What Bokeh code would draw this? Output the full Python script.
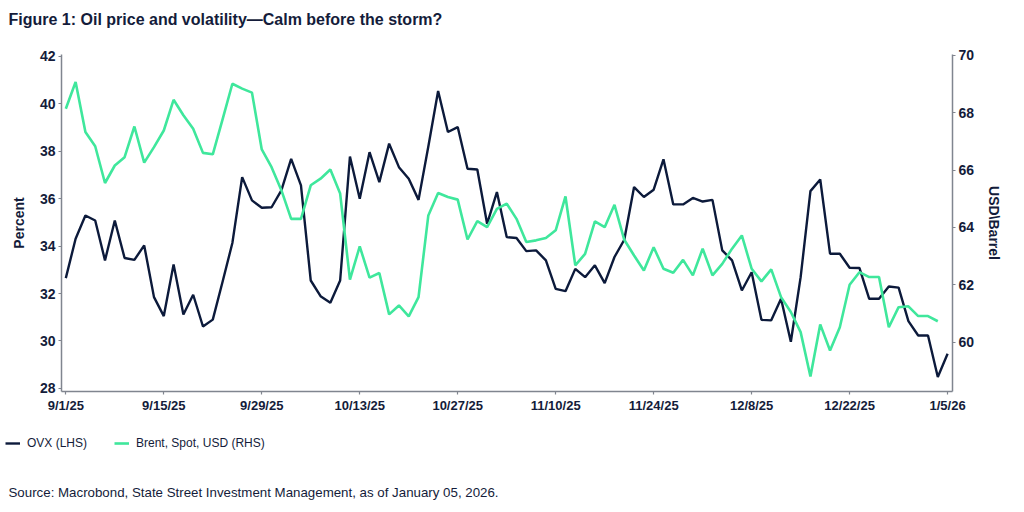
from bokeh.plotting import figure
from bokeh.models import Range1d, LinearAxis, FixedTicker, Legend, LegendItem
from bokeh.layouts import column
from bokeh.core.properties import value
from bokeh.embed import file_html
from bokeh.resources import INLINE

# ---- data (business-day index, 9/1/25 .. 1/5/26) ----
tick_labels = ["9/1/25", "9/15/25", "9/29/25", "10/13/25", "10/27/25",
               "11/10/25", "11/24/25", "12/8/25", "12/22/25", "1/5/26"]
tick_pos = [0, 10, 20, 30, 40, 50, 60, 70, 80, 90]

ovx = [32.65, 34.31, 35.29, 35.08, 33.40, 35.08, 33.50, 33.42, 34.03, 31.85,
       31.05, 33.23, 31.12, 31.95, 30.61, 30.90, 32.50, 34.13, 36.91, 35.93,
       35.62, 35.64, 36.35, 37.68, 36.56, 32.55, 31.89, 31.61, 32.55, 37.78,
       36.00, 37.96, 36.70, 38.32, 37.33, 36.84, 35.95, 38.20, 40.54, 38.81,
       39.02, 37.26, 37.23, 34.94, 36.28, 34.38, 34.34, 33.79, 33.82, 33.40,
       32.20, 32.10, 33.04, 32.69, 33.19, 32.44, 33.54, 34.27, 36.49, 36.07,
       36.38, 37.66, 35.76, 35.76, 36.03, 35.88, 35.95, 33.82, 33.40, 32.13,
       32.90, 30.89, 30.87, 31.78, 29.97, 32.69, 36.32, 36.81, 33.68, 33.68,
       33.09, 33.08, 31.78, 31.78, 32.30, 32.25, 30.84, 30.23, 30.23, 28.48,
       29.46]

brent = [68.14, 69.07, 67.33, 66.83, 65.55, 66.16, 66.45, 67.52, 66.26, 66.80,
         67.38, 68.45, 67.91, 67.44, 66.60, 66.55, 67.77, 69.01, 68.84, 68.70,
         66.72, 66.10, 65.30, 64.30, 64.30, 65.47, 65.70, 66.02, 65.18, 62.18,
         63.34, 62.25, 62.41, 60.97, 61.28, 60.90, 61.57, 64.42, 65.20, 65.06,
         64.97, 63.58, 64.22, 64.01, 64.65, 64.83, 64.30, 63.49, 63.55, 63.63,
         63.90, 65.08, 62.68, 63.08, 64.21, 64.01, 64.79, 63.57, 63.02, 62.50,
         63.31, 62.56, 62.42, 62.87, 62.33, 63.26, 62.33, 62.73, 63.26, 63.72,
         62.56, 62.12, 62.54, 61.57, 61.05, 60.35, 58.80, 60.62, 59.71, 60.52,
         62.00, 62.44, 62.27, 62.27, 60.52, 61.22, 61.25, 60.91, 60.91, 60.73]

ovx_x = list(range(len(ovx)))
brent_x = list(range(len(brent)))

left_ticks = [28, 30, 32, 34, 36, 38, 40, 42]
right_ticks = [60, 62, 64, 66, 68, 70]

TITLE = "Figure 1: Oil price and volatility\u2014Calm before the storm?"
SOURCE = "Source: Macrobond, State Street Investment Management, as of January 05, 2026."
SERIES = ["OVX (LHS)", "Brent, Spot, USD (RHS)"]

NAVY = "#0c1a3b"
GREEN = "#3fe79c"
AXIS = "#80858f"
TEXT = "#141c3a"
FONT = "Liberation Sans"
W = 1024
NAN = float("nan")


def blank_fig(h):
    f = figure(width=W, height=h, output_backend="svg", toolbar_location=None,
               x_range=Range1d(0, W), y_range=Range1d(h, 0),
               x_axis_type=None, y_axis_type=None,
               min_border_left=0, min_border_right=0, min_border_top=0,
               min_border_bottom=0, frame_align=False)
    f.outline_line_color = None
    f.background_fill_color = "white"
    f.border_fill_color = "white"
    return f


# ---- title strip ----
top = blank_fig(46)
top.text(x=[8], y=[19], text=[TITLE], text_font=value(FONT),
         text_font_style="bold", text_font_size="16px", text_color=TEXT,
         text_baseline="middle", text_align="left")

# ---- main chart ----
p = figure(width=W, height=374, output_backend="svg", toolbar_location=None,
           x_range=Range1d(-0.44, 90.5), y_range=Range1d(27.87, 42.08),
           min_border_left=61, min_border_right=72, min_border_top=8,
           min_border_bottom=29, frame_align=False)
p.extra_y_ranges = {"brent": Range1d(58.28, 70.03)}
p.xgrid.visible = False
p.ygrid.visible = False
p.outline_line_color = None
p.background_fill_color = "white"
p.border_fill_color = "white"


def style_axis(ax, size, label=None, standoff=10):
    ax.axis_line_color = AXIS
    ax.axis_line_width = 1.5
    ax.major_tick_line_color = AXIS
    ax.major_tick_line_width = 1.2
    ax.major_tick_in = 0
    ax.major_tick_out = 3
    ax.minor_tick_line_color = None
    ax.major_label_text_font = FONT
    ax.major_label_text_font_style = "bold"
    ax.major_label_text_font_size = size
    ax.major_label_text_color = TEXT
    ax.major_label_standoff = 3
    if label is not None:
        ax.axis_label = label
        ax.axis_label_text_font = FONT
        ax.axis_label_text_font_style = "bold"
        ax.axis_label_text_font_size = "14px"
        ax.axis_label_text_color = TEXT
        ax.axis_label_standoff = standoff


xa = p.xaxis[0]
style_axis(xa, "13px")
xa.ticker = FixedTicker(ticks=tick_pos)
xa.major_label_overrides = {t: s for t, s in zip(tick_pos, tick_labels)}

ya = p.yaxis[0]
style_axis(ya, "14px", "Percent", 10)
ya.ticker = FixedTicker(ticks=left_ticks)

ra = LinearAxis(y_range_name="brent")
style_axis(ra, "14px", "USD\\Barrel", 9)
ra.ticker = FixedTicker(ticks=right_ticks)
p.add_layout(ra, "right")

p.line(ovx_x, ovx, line_color=NAVY, line_width=2.4)
p.line(brent_x, brent, line_color=GREEN, line_width=2.6, y_range_name="brent")

# ---- legend + source strip ----
bot = blank_fig(92)
l1 = bot.line(x=[NAN], y=[NAN], line_color=NAVY, line_width=2.4)
l2 = bot.line(x=[NAN], y=[NAN], line_color=GREEN, line_width=2.6)
legend = Legend(items=[LegendItem(label=SERIES[0], renderers=[l1]),
                       LegendItem(label=SERIES[1], renderers=[l2])],
                location=(5, 59), orientation="horizontal",
                glyph_width=15, glyph_height=20, label_standoff=7, spacing=27,
                padding=0, margin=0, border_line_color=None,
                background_fill_alpha=0,
                label_text_font=FONT, label_text_font_size="12px",
                label_text_color=TEXT)
bot.add_layout(legend)
bot.text(x=[8], y=[72], text=[SOURCE], text_font=value(FONT),
         text_font_size="13.3px", text_color=TEXT,
         text_baseline="middle", text_align="left")

layout = column(top, p, bot, spacing=0)
open("out.html", "w").write(file_html(layout, INLINE))
